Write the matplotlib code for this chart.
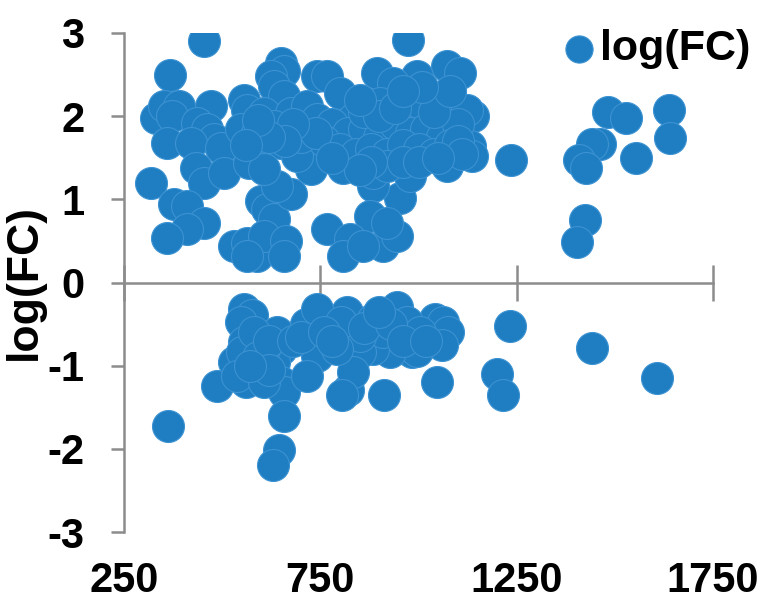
import matplotlib
matplotlib.use("Agg")
import matplotlib.pyplot as plt

plt.rcParams['font.family'] = ['Liberation Sans', 'DejaVu Sans']
plt.rcParams['axes.unicode_minus'] = False

series_name = "log(FC)"
x_ticks = [250, 750, 1250, 1750]
y_ticks = [-3, -2, -1, 0, 1, 2, 3]

# upper group (positive log fold changes)
x_up = [1482, 1528, 1637, 1640, 1461, 1441, 1408, 1426, 1553, 1235, 1423, 1403,
        454, 367, 331, 352, 390, 372, 471, 359, 436, 461, 479, 421, 497, 555, 563, 548,
        650, 657, 624, 632, 741, 657, 606, 675, 716, 588, 632, 690, 741, 581, 650, 708,
        319, 433, 454, 504, 568, 377, 410, 454, 410, 359, 599, 614, 632, 675, 639, 530,
        563, 588, 606, 662, 657, 726, 690, 606, 563,
        973, 894, 1072, 1105, 996, 935, 1138, 1080, 767, 800, 902, 1123, 1131, 833, 960,
        1029, 1003,
        807, 1072, 1136, 952, 884, 876, 767, 825, 807, 909, 945, 858, 978, 884, 919,
        780, 820, 860, 900, 940, 980, 1020, 1060, 1100, 760, 800, 840, 880, 920, 960,
        1000, 1040, 1080, 700, 740, 680, 660, 620, 590, 560, 860, 900, 940, 1040, 1100,
        1110, 920, 960, 1000, 880, 850, 1050, 780, 1080, 1010, 850, 960]
y_up = [2.05, 1.98, 2.07, 1.74, 1.67, 1.66, 1.47, 1.38, 1.50, 1.47, 0.75, 0.49,
        2.90, 2.50, 1.98, 2.12, 2.12, 2.00, 2.12, 1.68, 1.92, 1.84, 1.72, 1.68, 1.62, 2.20, 2.08, 1.84,
        2.64, 2.54, 2.48, 2.36, 2.48, 2.24, 2.04, 2.04, 2.12, 1.80, 1.88, 1.84, 1.96, 1.64, 1.68, 1.64,
        1.20, 1.38, 1.20, 1.32, 1.44, 0.94, 0.92, 0.72, 0.64, 0.54, 0.98, 0.88, 0.76, 1.06, 1.16, 0.44,
        0.48, 0.32, 0.56, 0.50, 0.32, 1.36, 1.52, 1.36, 0.32,
        2.92, 2.52, 2.60, 2.52, 2.48, 2.40, 2.00, 2.24, 2.48, 2.28, 2.16, 2.08, 1.64, 1.96, 2.00,
        1.96, 2.16,
        1.38, 1.40, 1.52, 1.02, 1.16, 0.80, 0.64, 0.52, 0.32, 0.44, 0.56, 0.44, 1.28, 1.32, 0.72,
        1.90, 1.80, 1.85, 1.75, 1.90, 1.80, 1.85, 1.75, 1.90, 1.70, 1.60, 1.55, 1.60, 1.55, 1.65,
        1.60, 1.55, 1.65, 1.75, 1.80, 1.90, 1.70, 1.75, 1.95, 1.65, 2.05, 2.00, 2.10, 2.05, 1.70,
        1.55, 1.40, 1.45, 1.45, 1.45, 1.35, 1.50, 1.50, 2.30, 2.35, 2.20, 2.30]

# lower group (negative log fold changes)
x_down = [1232, 1441, 1607, 1199, 1215, 1047, 912, 820,
          945, 1042, 1062, 1075, 1059, 983, 996, 927, 884, 851, 833, 818, 884, 970, 909, 1003, 851,
          362, 555, 576, 548, 487, 560, 530, 555, 550, 606, 639, 650, 632, 650, 657, 657, 644, 629,
          713, 741, 741, 716, 802, 792, 805, 606, 538, 606,
          580, 590, 620, 680, 700, 760, 780, 860, 930, 960, 1020, 900, 620, 570]
y_down = [-0.52, -0.79, -1.15, -1.10, -1.35, -1.20, -1.35, -1.29,
          -0.30, -0.44, -0.48, -0.60, -0.75, -0.84, -0.82, -0.84, -0.80, -0.84, -1.08, -0.36, -0.44, -0.48, -0.60, -0.60, -0.64,
          -1.72, -0.32, -0.39, -0.48, -1.24, -1.20, -0.96, -0.72, -0.84, -1.00, -0.60, -0.80, -0.96, -1.20, -1.32, -1.60, -2.02, -2.20,
          -0.50, -0.32, -0.88, -1.12, -0.48, -0.80, -1.35, -0.80, -1.12, -1.20,
          -0.60, -0.90, -0.70, -0.70, -0.65, -0.60, -0.70, -0.55, -0.50, -0.70, -0.70, -0.35, -1.05, -1.00]

x_vals = x_up + x_down
y_vals = y_up + y_down

blue = '#1F7EC1'
edge = '#3C92D2'
gray = '#8C8C8C'
fs = 30

fig = plt.figure(figsize=(7.68, 6.10), dpi=100)
ax = fig.add_axes([124/768, 1 - 532/610, (713 - 124)/768, (532 - 33)/610])

ax.scatter(x_vals, y_vals, s=530, color=blue, edgecolors=edge, linewidths=0.8,
           label=series_name, zorder=3)

ax.set_xlim(250, 1750)
ax.set_ylim(-3, 3)

for side in ['top', 'right']:
    ax.spines[side].set_visible(False)
ax.spines['bottom'].set_position(('data', 0))
for side in ['left', 'bottom']:
    ax.spines[side].set_color(gray)
    ax.spines[side].set_linewidth(1.8)

ax.set_xticks(x_ticks)
ax.set_yticks(y_ticks)
ax.tick_params(axis='x', direction='inout', length=26, width=1.8, color=gray,
               labelbottom=False)
ax.tick_params(axis='y', direction='out', length=9.5, width=1.8, color=gray,
               pad=19, labelsize=fs)
for lab in ax.get_yticklabels():
    lab.set_fontweight('bold')

sec = ax.secondary_xaxis(0)
sec.set_xticks(x_ticks)
sec.spines['bottom'].set_visible(False)
sec.tick_params(axis='x', length=0, pad=21, labelsize=fs)
for lab in sec.get_xticklabels():
    lab.set_fontweight('bold')

ax.set_ylabel(series_name, fontsize=32, fontweight='bold')
ax.yaxis.set_label_coords(-0.135, 0.5)

leg = ax.legend(loc='upper right', bbox_to_anchor=(768/768, 1 - 12/610),
                bbox_transform=fig.transFigure, frameon=False,
                prop={'size': 31, 'weight': 'bold'}, handletextpad=-0.1,
                borderaxespad=0, markerscale=0.85, handlelength=1.2)

fig.savefig('out.png', dpi=100)
